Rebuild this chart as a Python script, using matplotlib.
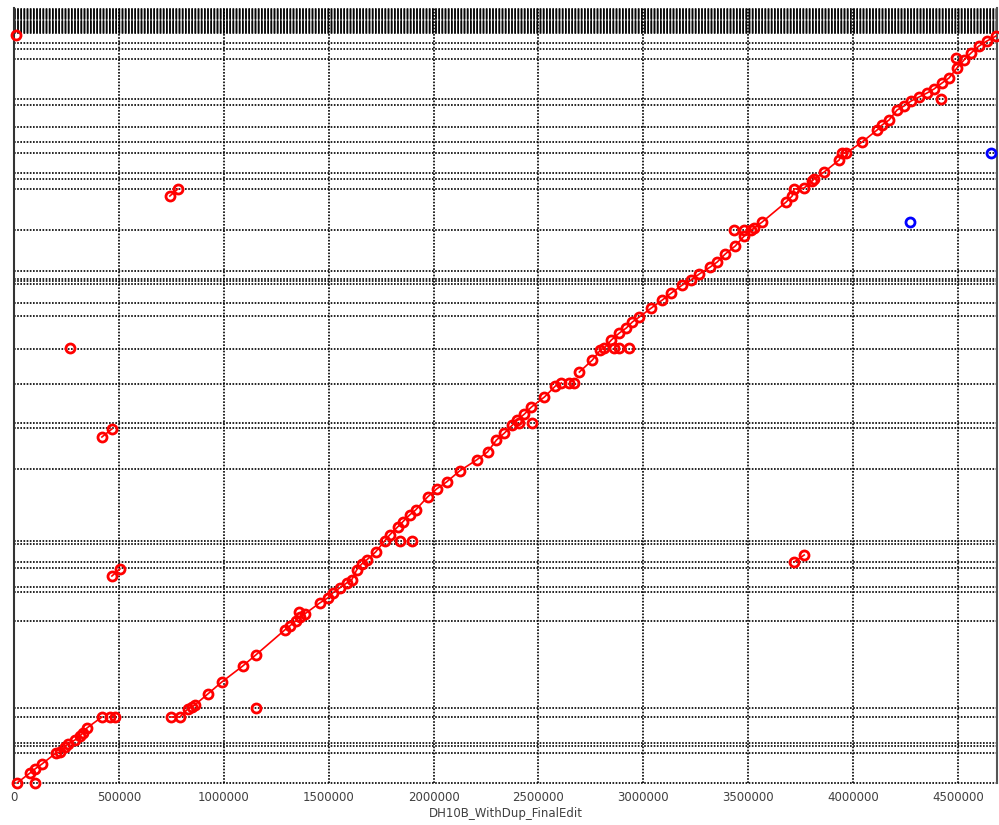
import numpy as np
import matplotlib
matplotlib.use('Agg')
from matplotlib import pyplot as plt

# reference / query lengths (bp)
ref_len = 4686000
qry_top = 4862400

# query contig boundaries (bp), drawn as dotted horizontal lines
qry_bounds = [0, 188200, 232100, 251000, 414100, 470600, 1016400, 1198400, 1229800,
              1349000, 1386600, 1499700, 1518600, 1970300, 2227500, 2258600, 2503300,
              2722900, 2929900, 3011500, 3130700, 3149500, 3162100, 3212300, 3469500,
              3726700, 3789500, 3827100, 3952600, 4021600, 4115700, 4253800, 4291400,
              4542400, 4605100, 4642800]
# many tiny contigs packed at the top of the query axis
small_bounds = [4705500, 4711800, 4718100, 4724300, 4730600, 4736900, 4743200, 4749400,
                4755700, 4762000, 4768300, 4774500, 4780800,
                4793300, 4799600, 4805900, 4812200, 4818400, 4824700, 4831000, 4837300,
                4843500, 4849800, 4856100]

ref_ticks = [0, 500000, 1000000, 1500000, 2000000, 2500000, 3000000, 3500000, 4000000, 4500000]

# forward matches, first contig (chained)
chainA_ref = [14300, 76200, 100000, 133300, 200000, 219000, 242900, 257100, 290500,
              314300, 328600, 347600, 419000]
chainA_qry = [0, 62700, 87800, 119200, 188200, 194500, 225900, 244700, 269800,
              294900, 313700, 345100, 414100]

# forward matches, main diagonal (chained)
chainB_ref = [747600, 790500, 828600, 847600, 861900, 923800, 990500, 1090500, 1152400,
              1290500, 1314300, 1342900, 1361900, 1385700, 1457200, 1495300, 1519100,
              1552400, 1585700, 1609600, 1633400, 1657200, 1681000, 1723800, 1766700,
              1790500, 1828600, 1852400, 1885800, 1914300, 1971500, 2014300, 2061900,
              2123900, 2204800, 2257200, 2300000, 2338100, 2376200, 2400000, 2433400,
              2466700, 2528600, 2581000, 2609600]
chainB_qry = [414100, 414100, 464300, 476900, 489400, 558400, 633700, 734100, 803100,
              959900, 985000, 1016400, 1041500, 1060300, 1129300, 1160700, 1192100,
              1223400, 1254800, 1273600, 1336400, 1374000, 1399100, 1449300, 1518300,
              1555900, 1606100, 1637500, 1681400, 1712800, 1794400, 1844600, 1888500,
              1957500, 2026500, 2076700, 2152000, 2195900, 2246100, 2277500, 2315100,
              2359000, 2421800, 2490800, 2509600]

chainC_ref = [2695300, 2757200, 2795300, 2814300, 2847700, 2885800, 2919100, 2947700,
              2981000, 3038200, 3090500, 3133400, 3185800, 3228600, 3266700, 3319100,
              3352400, 3390500, 3438200, 3481000, 3514400, 3528600, 3566700, 3681000,
              3709600, 3719100, 3766700, 3804800, 3814300, 3862000, 3933400, 3947700,
              3966700, 4043000, 4114400, 4138200, 4171500, 4209600, 4243000, 4276300,
              4314400, 4352500, 4385800, 4423900, 4457200, 4495300, 4528600, 4562000,
              4600100, 4638200, 4681000]
chainC_qry = [2578600, 2653900, 2716600, 2729200, 2779400, 2823300, 2854700, 2892300,
              2923700, 2980200, 3030300, 3074300, 3124500, 3155800, 3193500, 3237400,
              3268800, 3319000, 3369100, 3431900, 3469500, 3481900, 3519700, 3645200,
              3682800, 3726700, 3733000, 3776900, 3789500, 3833400, 3908700, 3952600,
              3952600, 4021600, 4096900, 4128300, 4159700, 4222400, 4247500, 4278900,
              4304000, 4329100, 4354200, 4391800, 4423200, 4485900, 4536100, 4580000,
              4623900, 4655300, 4686700]

# short forward matches away from the diagonal (start, end)
off_ref = [(742900, 781000), (419000, 466700), (466700, 504800), (3719100, 3766700)]
off_qry = [(3682800, 3726700), (2170800, 2221000), (1298700, 1342600), (1386600, 1430500)]

# single short hits (forward)
dot_ref = [457100, 481000, 2647700, 2671500, 2862000, 2885800, 2933400, 1838100, 1895300,
           2409600, 2471500, 1357200, 266700, 1152400, 100000, 9500, 4490500, 4419100,
           3433400, 3481000]
dot_qry = [414100, 414100, 2509600, 2509600, 2729200, 2729200, 2729200, 1518300, 1518300,
           2258600, 2258600, 1072900, 2729200, 470600, 0, 4692900, 4548600, 4291400,
           3469500, 3469500]

# reverse hits
rev_ref = [4657200, 4271500]
rev_qry = [3952600, 3519700]

fig = plt.figure(figsize=(9.99, 8.25), dpi=100)
ax = fig.add_axes([14 / 999, 42 / 825, 983 / 999, 775 / 825])
ax.set_xlim(0, ref_len)
ax.set_ylim(0, qry_top)

# gnuplot-like dotted grid
dot_style = dict(color='black', lw=1.2, linestyle=(0, (1.0, 0.9)),
                 clip_on=False, zorder=1)
for y in qry_bounds + small_bounds:
    ax.axhline(y, **dot_style)
for x in ref_ticks[1:]:
    ax.axvline(x, **dot_style)

red = '#ff0000'
mk = dict(marker='o', ms=6.5, mfc='none', mew=2.0, clip_on=False, zorder=3)
ax.plot(chainA_ref, chainA_qry, color=red, lw=1.2, mec=red, **mk)
ax.plot(chainB_ref, chainB_qry, color=red, lw=1.2, mec=red, **mk)
ax.plot(chainC_ref, chainC_qry, color=red, lw=1.2, mec=red, **mk)
for r, q in zip(off_ref, off_qry):
    ax.plot(r, q, color=red, lw=1.2, mec=red, **mk)
ax.plot(dot_ref, dot_qry, linestyle='none', mec=red, **mk)
ax.plot(rev_ref, rev_qry, linestyle='none', mec='#0000ff', **mk)

ax.spines['top'].set_visible(False)
ax.spines['bottom'].set_visible(False)
ax.spines['left'].set_color('#333333')
ax.spines['left'].set_linewidth(1.5)
ax.spines['right'].set_color('#555555')
ax.spines['right'].set_linewidth(1.5)

ax.set_xticks(ref_ticks)
ax.set_xticklabels([str(t) for t in ref_ticks], fontsize=8.5, color='#404040')
ax.tick_params(axis='x', length=0, pad=6)
ax.set_yticks([])
ax.set_xlabel('DH10B_WithDup_FinalEdit', fontsize=8.5, color='#404040', labelpad=2)

fig.savefig('out.png', dpi=100)
